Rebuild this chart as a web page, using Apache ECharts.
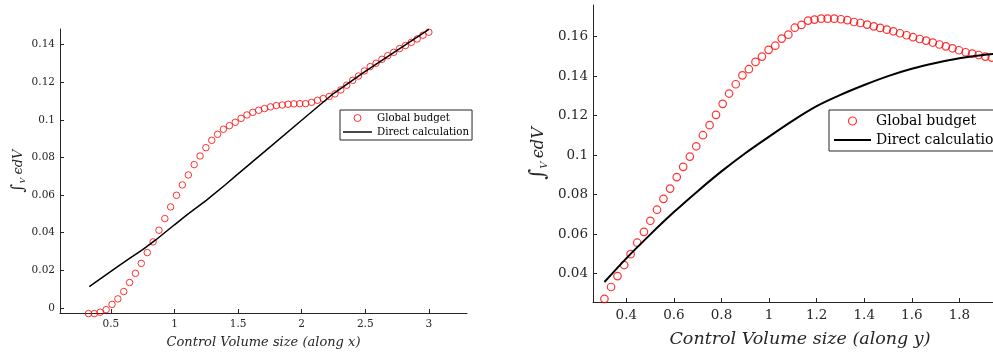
<!DOCTYPE html>
<html>
<head>
<meta charset="utf-8">
<script src="https://cdn.jsdelivr.net/npm/echarts@6/dist/echarts.min.js"></script>
<style>html,body{margin:0;padding:0;background:#fff;}#c{width:993px;height:361px;}</style>
</head>
<body>
<div id="c"></div>
<script>
// ---- Left panel (along x) ----
const xLeft = [0.324,0.370,0.416,0.463,0.509,0.555,0.601,0.647,0.693,0.739,0.786,0.832,0.878,0.924,0.970,1.016,1.062,1.109,1.155,1.201,1.247,1.293,1.339,1.385,1.432,1.478,1.524,1.570,1.616,1.662,1.708,1.755,1.801,1.847,1.893,1.939,1.985,2.031,2.078,2.124,2.170,2.216,2.262,2.308,2.354,2.401,2.447,2.493,2.539,2.585,2.631,2.677,2.724,2.770,2.816,2.862,2.908,2.954,3.000];
const budgetLeft = [-0.0030,-0.0030,-0.0023,-0.0009,0.0019,0.0048,0.0087,0.0135,0.0184,0.0237,0.0294,0.0351,0.0413,0.0475,0.0537,0.0599,0.0654,0.0707,0.0762,0.0808,0.0852,0.0891,0.0923,0.0950,0.0969,0.0987,0.1008,0.1026,0.1040,0.1051,0.1060,0.1069,0.1076,0.1079,0.1083,0.1085,0.1086,0.1086,0.1093,0.1104,0.1113,0.1124,0.1138,0.1159,0.1184,0.1210,0.1233,0.1260,0.1283,0.1301,0.1322,0.1341,0.1359,0.1379,0.1395,0.1412,0.1430,0.1450,0.1466];
const directLeftX = [0.33,0.45,0.55,0.65,0.75,0.85,1.0,1.1,1.25,1.4,1.5,1.75,2.0,2.25,2.5,2.75,3.0];
const directLeftY = [0.0113,0.0170,0.0218,0.0265,0.0310,0.0360,0.0442,0.0496,0.0572,0.0655,0.0713,0.0855,0.0998,0.1140,0.1258,0.1369,0.1481];
const xTicksLeft = [0.5,1,1.5,2,2.5,3];
const yTicksLeft = [0,0.02,0.04,0.06,0.08,0.1,0.12,0.14];

// ---- Right panel (along y) ----
const xRight = [0.308,0.336,0.363,0.391,0.418,0.446,0.474,0.501,0.529,0.556,0.584,0.612,0.639,0.667,0.694,0.722,0.750,0.777,0.805,0.832,0.860,0.888,0.915,0.943,0.970,0.998,1.026,1.053,1.081,1.108,1.136,1.164,1.191,1.219,1.246,1.274,1.302,1.329,1.357,1.384,1.412,1.440,1.467,1.495,1.522,1.550,1.578,1.605,1.633,1.660,1.688,1.716,1.743,1.771,1.798,1.826,1.854,1.881,1.909,1.936];
const budgetRight = [0.0273,0.0333,0.0388,0.0444,0.0499,0.0557,0.0612,0.0668,0.0724,0.0779,0.0831,0.0889,0.0941,0.0993,0.1045,0.1101,0.1152,0.1204,0.1260,0.1312,0.1359,0.1404,0.1435,0.1472,0.1499,0.1533,0.1554,0.1590,0.1610,0.1645,0.1659,0.1681,0.1686,0.1691,0.1691,0.1691,0.1688,0.1683,0.1674,0.1669,0.1661,0.1652,0.1644,0.1635,0.1627,0.1617,0.1607,0.1597,0.1588,0.1580,0.1570,0.1560,0.1551,0.1541,0.1531,0.1521,0.1514,0.1507,0.1499,0.1494];
const directRightX = [0.308,0.4,0.5,0.6,0.7,0.8,0.9,1.0,1.1,1.2,1.3,1.4,1.5,1.6,1.7,1.8,1.9,2.0];
const directRightY = [0.0358,0.0478,0.0598,0.0712,0.0818,0.0918,0.1010,0.1094,0.1175,0.1248,0.1305,0.1355,0.1400,0.1437,0.1466,0.1490,0.1507,0.1518];
const xTicksRight = [0.4,0.6,0.8,1,1.2,1.4,1.6,1.8];
const yTicksRight = [0.04,0.06,0.08,0.1,0.12,0.14,0.16];

const seriesNames = ['Global budget','Direct calculation'];
const xTitleLeft = 'Control Volume size (along x)';
const xTitleRight = 'Control Volume size (along y)';

const FONT = 'DejaVu Serif';
const AX = '#262626';
const LINE_ICON = 'path://M0,0L40,0L40,2L0,2Z';

function zip(a,b){return a.map((v,i)=>[v,b[i]]);}

function xAxisCfg(gi, min, max, ticks, title, fs, nfs, gap){
  return {
    type:'value', gridIndex:gi, min:min, max:max,
    axisLine:{show:true, onZero:false, lineStyle:{color:AX,width:1}},
    axisTick:{show:true, inside:true, length:4, customValues:ticks, lineStyle:{color:AX}},
    axisLabel:{customValues:ticks, color:AX, fontFamily:FONT, fontSize:fs, margin:6},
    splitLine:{show:false},
    name:title, nameLocation:'middle', nameGap:gap,
    nameTextStyle:{fontFamily:FONT, fontStyle:'italic', fontSize:nfs, color:AX}
  };
}
function yAxisCfg(gi, min, max, ticks, fs, gap, sc){
  return {
    type:'value', gridIndex:gi, min:min, max:max,
    axisLine:{show:true, onZero:false, lineStyle:{color:AX,width:1}},
    axisTick:{show:true, inside:true, length:4, customValues:ticks, lineStyle:{color:AX}},
    axisLabel:{customValues:ticks, color:AX, fontFamily:FONT, fontSize:fs, margin:5},
    splitLine:{show:false},
    name:'{i|∫}{s|V} {t|ϵdV}', nameLocation:'middle', nameGap:gap, nameRotate:90,
    nameTextStyle:{color:AX, rich:{
      i:{fontFamily:FONT, fontSize:17*sc, color:AX},
      s:{fontFamily:FONT, fontStyle:'italic', fontSize:8*sc, color:AX, verticalAlign:'bottom', padding:[7*sc,0,0,0]},
      t:{fontFamily:FONT, fontStyle:'italic', fontSize:13*sc, color:AX}
    }}
  };
}

const chart = echarts.init(document.getElementById('c'), null, {renderer:'canvas'});
chart.setOption({
  animation:false,
  backgroundColor:'#fff',
  grid:[
    {left:60, top:29, width:407, height:284, outerBoundsMode:'none', containLabel:false},
    {left:593, top:5, width:414, height:297, outerBoundsMode:'none', containLabel:false}
  ],
  xAxis:[
    xAxisCfg(0, 0.1, 3.3, xTicksLeft, xTitleLeft, 10.5, 13, 23),
    xAxisCfg(1, 0.26, 2.0, xTicksRight, xTitleRight, 13.5, 17.5, 28)
  ],
  yAxis:[
    yAxisCfg(0, -0.0027, 0.1483, yTicksLeft, 10.5, 33, 1),
    yAxisCfg(1, 0.0257, 0.176, yTicksRight, 13.5, 44, 1.25)
  ],
  legend:[
    {left:340, top:110, orient:'vertical', selectedMode:false,
     itemWidth:29, itemHeight:7, itemGap:4, padding:[3,3,3,3],
     borderColor:AX, borderWidth:1, backgroundColor:'#fff',
     textStyle:{fontFamily:FONT, fontSize:10.2, color:'#000'},
     data:[
       {name:seriesNames[0], icon:'circle', itemStyle:{color:'rgba(0,0,0,0)', borderColor:'#ff0000', borderWidth:1}},
       {name:seriesNames[1], icon:LINE_ICON, itemStyle:{color:'#000', borderWidth:0}}
     ]},
    {left:829, top:110, orient:'vertical', selectedMode:false,
     itemWidth:37, itemHeight:8, itemGap:5, padding:[4,4,4,5],
     borderColor:AX, borderWidth:1, backgroundColor:'#fff',
     textStyle:{fontFamily:FONT, fontSize:14, color:'#000'},
     data:[
       {name:seriesNames[0], icon:'circle', itemStyle:{color:'rgba(0,0,0,0)', borderColor:'#ff0000', borderWidth:1.2}},
       {name:seriesNames[1], icon:LINE_ICON, itemStyle:{color:'#000', borderWidth:0}}
     ]}
  ],
  series:[
    {name:seriesNames[0], type:'scatter', xAxisIndex:0, yAxisIndex:0, data:zip(xLeft,budgetLeft), clip:false,
     symbol:'circle', symbolSize:6.5, itemStyle:{color:'rgba(0,0,0,0)', borderColor:'#ff0000', borderWidth:1}, silent:true},
    {name:seriesNames[1], type:'line', xAxisIndex:0, yAxisIndex:0, data:zip(directLeftX,directLeftY),
     symbol:'none', showSymbol:false, smooth:false, lineStyle:{color:'#000', width:1.5}, itemStyle:{color:'#000'}, silent:true},
    {name:seriesNames[0], type:'scatter', xAxisIndex:1, yAxisIndex:1, data:zip(xRight,budgetRight), clip:false,
     symbol:'circle', symbolSize:7.5, itemStyle:{color:'rgba(0,0,0,0)', borderColor:'#ff0000', borderWidth:1.2}, silent:true},
    {name:seriesNames[1], type:'line', xAxisIndex:1, yAxisIndex:1, data:zip(directRightX,directRightY),
     symbol:'none', showSymbol:false, smooth:0.3, lineStyle:{color:'#000', width:2}, itemStyle:{color:'#000'}, silent:true}
  ]
});
</script>
</body>
</html>
